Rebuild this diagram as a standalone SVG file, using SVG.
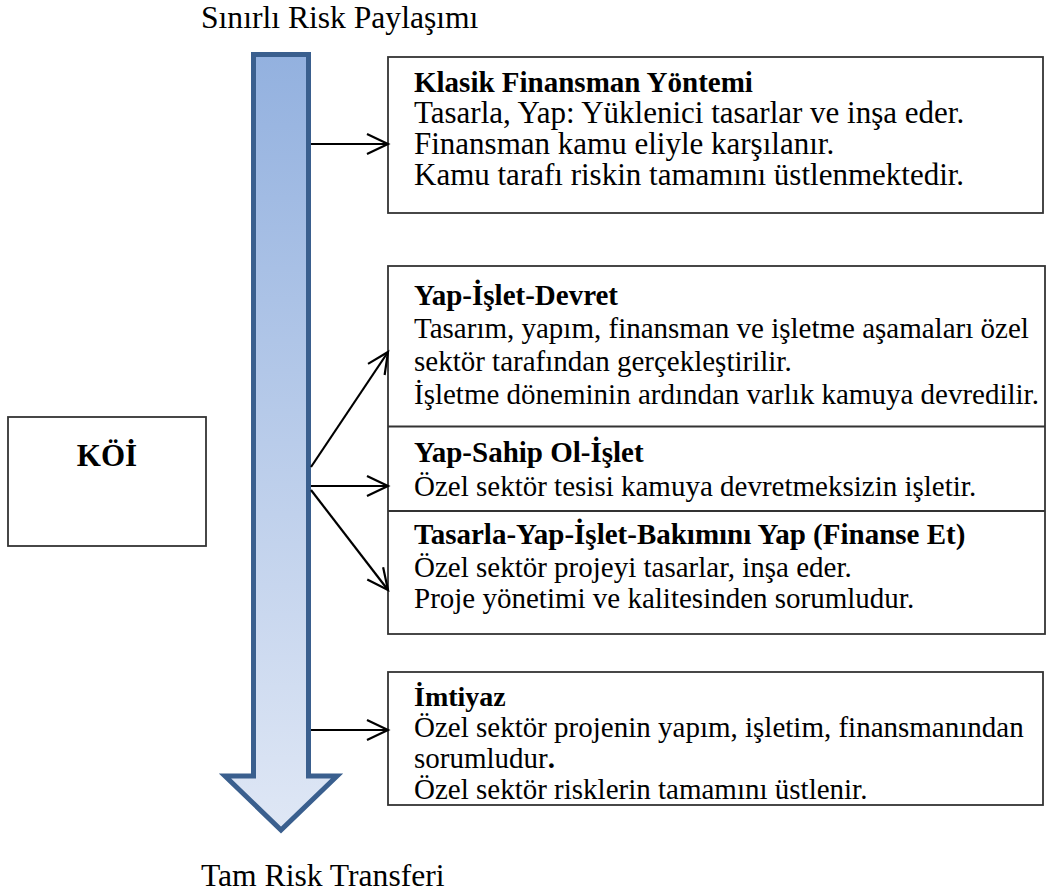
<svg xmlns="http://www.w3.org/2000/svg" width="1062" height="895" viewBox="0 0 1062 895">
<style>
text{font-family:"Liberation Serif","Times New Roman",serif;fill:#000}
.t{font-size:31px}
.s{font-size:29px}
.b{font-size:29px;font-weight:bold}
.h{font-size:31.6px}
.box{fill:#fff;stroke:#333;stroke-width:1.8}
.div{stroke:#333;stroke-width:1.8}
.con{stroke:#000;stroke-width:2.2;fill:none;marker-end:url(#ah)}
</style>
<defs>
<linearGradient id="g" x1="0" y1="0" x2="0" y2="1">
<stop offset="0" stop-color="#93B1DF"/>
<stop offset="1" stop-color="#DFE7F5"/>
</linearGradient>
<marker id="ah" markerUnits="userSpaceOnUse" markerWidth="26" markerHeight="26" viewBox="0 0 26 26" refX="23" refY="13" orient="auto">
<path d="M2,3 L23,13 L2,23" fill="none" stroke="#000" stroke-width="2.2"/>
</marker>
</defs>
<text class="h" x="201" y="28">Sınırlı Risk Paylaşımı</text>
<text class="h" x="201" y="886">Tam Risk Transferi</text>
<g id="bigarrow">
<polygon points="253.5,54.5 308.5,54.5 308.5,776 337,776 281,830 225,776 253.5,776" fill="url(#g)" stroke="#3A5F8E" stroke-width="5" stroke-linejoin="miter"/>
</g>
<g id="koi">
<rect class="box" x="8" y="417" width="198" height="129"/>
<text x="107" y="466" text-anchor="middle" style="font-size:31px;font-weight:bold">KÖİ</text>
</g>
<g id="klasik">
<rect class="box" x="388" y="57" width="655" height="156"/>
<text class="b" x="414" y="92">Klasik Finansman Yöntemi</text>
<text class="t" x="414" y="123">Tasarla, Yap: Yüklenici tasarlar ve inşa eder.</text>
<text class="t" x="414" y="154">Finansman kamu eliyle karşılanır.</text>
<text class="t" x="414" y="185">Kamu tarafı riskin tamamını üstlenmektedir.</text>
</g>
<g id="koi-models">
<rect class="box" x="388" y="266" width="657" height="368"/>
<line class="div" x1="388" y1="426.5" x2="1045" y2="426.5"/>
<line class="div" x1="388" y1="511" x2="1045" y2="511"/>
<g id="yid">
<text class="b" x="414" y="305">Yap-İşlet-Devret</text>
<text class="s" x="414" y="338">Tasarım, yapım, finansman ve işletme aşamaları özel</text>
<text class="s" x="414" y="371">sektör tarafından gerçekleştirilir.</text>
<text class="s" x="414" y="404">İşletme döneminin ardından varlık kamuya devredilir.</text>
</g>
<g id="ysoi">
<text class="b" x="414" y="462">Yap-Sahip Ol-İşlet</text>
<text class="s" x="414" y="496">Özel sektör tesisi kamuya devretmeksizin işletir.</text>
</g>
<g id="tyib">
<text class="b" x="414" y="544">Tasarla-Yap-İşlet-Bakımını Yap (Finanse Et)</text>
<text class="s" x="414" y="577">Özel sektör projeyi tasarlar, inşa eder.</text>
<text class="s" x="414" y="608">Proje yönetimi ve kalitesinden sorumludur.</text>
</g>
</g>
<g id="imtiyaz">
<rect class="box" x="388" y="672" width="655" height="133"/>
<text class="b" x="414" y="706" style="font-size:28px">İmtiyaz</text>
<text class="s" x="414" y="737">Özel sektör projenin yapım, işletim, finansmanından</text>
<text class="s" x="414" y="768">sorumludur<tspan font-weight="bold">.</tspan></text>
<text class="s" x="414" y="799">Özel sektör risklerin tamamını üstlenir.</text>
</g>
<g id="connectors">
<line class="con" x1="311" y1="144" x2="388" y2="144"/>
<line class="con" x1="311" y1="467" x2="388" y2="352"/>
<line class="con" x1="311" y1="486" x2="388" y2="486"/>
<line class="con" x1="311" y1="490" x2="388" y2="590"/>
<line class="con" x1="311" y1="730" x2="388" y2="730"/>
</g>
</svg>
